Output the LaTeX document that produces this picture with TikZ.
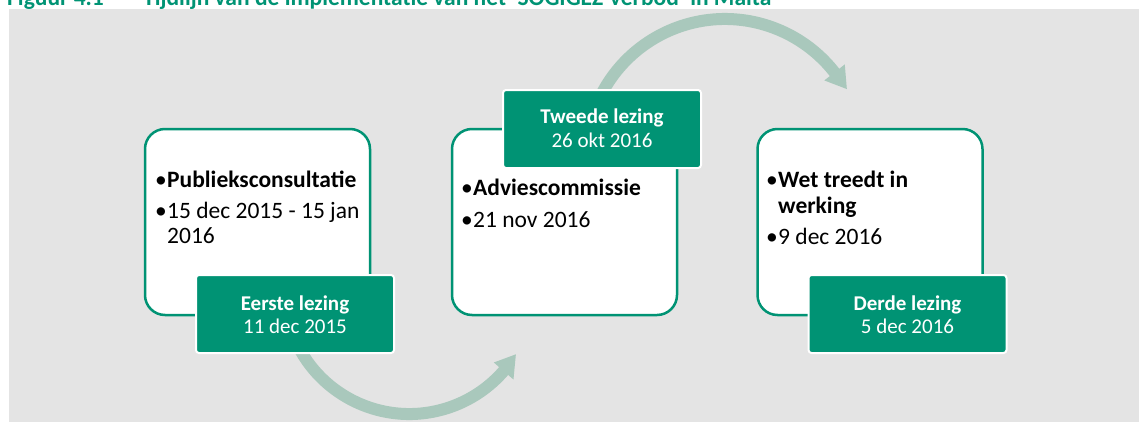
\documentclass[tikz,border=0pt]{standalone}
\usepackage{fontspec}
\setmainfont{Carlito}
\usetikzlibrary{calc}
\definecolor{bggray}{HTML}{E4E4E4}
\definecolor{mgreen}{HTML}{009374}
\definecolor{arrowc}{HTML}{A9C8BC}
\tikzset{
 whitebox/.style={draw=mgreen, line width=2.5pt, fill=white, rounded corners=20pt, minimum width=225pt, minimum height=186pt, inner sep=0pt},
 greenbox/.style={draw=white, line width=2pt, fill=mgreen, rounded corners=3pt, minimum width=198pt, minimum height=78pt, inner sep=0pt},
 bodytxt/.style={anchor=base west, inner sep=0pt, font=\fontsize{23.5}{27}\selectfont},
 lbltxt/.style={anchor=base, inner sep=0pt, text=white, font=\fontsize{21}{25}\selectfont},
 titletxt/.style={anchor=base west, inner sep=0pt, text=mgreen, font=\bfseries\fontsize{23.5}{27}\selectfont},
 arcarrow/.style={draw=arrowc, line width=12pt},
 headfill/.style={fill=arrowc},
}
\newcommand{\bul}{\makebox[12pt][l]{•}}
\begin{document}
\begin{tikzpicture}[x=1pt,y=-1pt]
\useasboundingbox (0,0) rectangle (1139,423);
\fill[bggray] (9,9) rectangle (1139,422);
\node[titletxt] (fig) at (7,5.5) {Figuur 4.1};
\node[titletxt] (title) at (143,5.5) {Tijdlijn van de implementatie van het ‘SOGIGEZ-verbod’ in Malta};
% centres of the curved arrows
\coordinate (c1) at (409.3,289);
\coordinate (c2) at (725,158);
% bottom arrow
\draw[arcarrow] ($(c1)+(160:125)$) arc[start angle=160, end angle=39, radius=125];
\fill[headfill] ($(c1)+(41:112)$) -- ($(c1)+(31.5:125)$) -- ($(c1)+(41:138)$) -- cycle;
% top arrow
\draw[arcarrow] ($(c2)+(196:139)$) arc[start angle=196, end angle=324, radius=139];
\fill[headfill] ($(c2)+(322:126)$) -- ($(c2)+(330.5:140)$) -- ($(c2)+(322:152)$) -- cycle;
% white boxes
\node[whitebox] (box1) at (257.5,222) {};
\node[whitebox] (box2) at (564.5,222) {};
\node[whitebox] (box3) at (870,222) {};
% green boxes
\node[greenbox] (g1) at (295,314) {};
\node[greenbox] (g2) at (602,129) {};
\node[greenbox] (g3) at (907.5,314) {};
% box 1 text
\node[bodytxt] (t11) at (155,187) {\bul\textbf{Publieksconsultatie}};
\node[bodytxt] (t12) at (155,218) {\bul 15 dec 2015 - 15 jan};
\node[bodytxt] (t13) at (167,243) {2016};
% box 2 text
\node[bodytxt] (t21) at (461,195) {\bul\textbf{Adviescommissie}};
\node[bodytxt] (t22) at (461,227) {\bul 21 nov 2016};
% box 3 text
\node[bodytxt] (t31) at (766,187) {\bul\textbf{Wet treedt in}};
\node[bodytxt] (t32) at (778,213) {\textbf{werking}};
\node[bodytxt] (t33) at (766,244) {\bul 9 dec 2016};
% green box labels
\node[lbltxt] (l11) at (295,310) {\textbf{Eerste lezing}};
\node[lbltxt] (l12) at (295,333) {11 dec 2015};
\node[lbltxt] (l21) at (602,123) {\textbf{Tweede lezing}};
\node[lbltxt] (l22) at (602,147) {26 okt 2016};
\node[lbltxt] (l31) at (907.5,310) {\textbf{Derde lezing}};
\node[lbltxt] (l32) at (907.5,333) {5 dec 2016};
\end{tikzpicture}
\end{document}
